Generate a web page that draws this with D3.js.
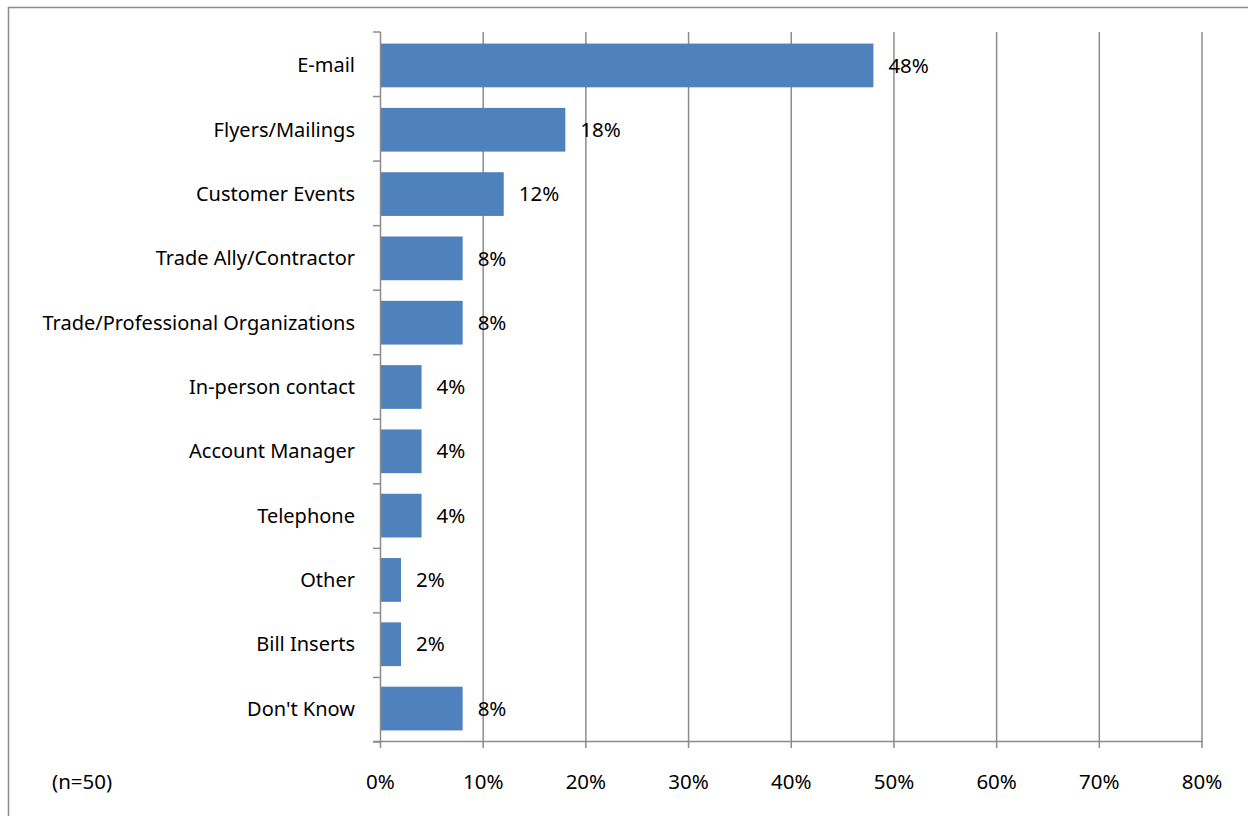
<!DOCTYPE html>
<html>
<head>
<meta charset="utf-8">
<script src="https://cdn.jsdelivr.net/npm/d3@7"></script>
<style>
  body { margin:0; background:#fff; }
  text { font-family: "Noto Sans", sans-serif; fill:#000; }
</style>
</head>
<body>
<div id="box-bar"></div>
<script>
var categories = ["E-mail","Flyers/Mailings","Customer Events","Trade Ally/Contractor",
  "Trade/Professional Organizations","In-person contact","Account Manager","Telephone",
  "Other","Bill Inserts","Don't Know"];
var values = [48,18,12,8,8,4,4,4,2,2,8];
var xTicks = [0,10,20,30,40,50,60,70,80];
var note = "(n=50)";

var width = 1248, height = 816;
var svg = d3.select("#box-bar").append("svg").attr("width",width).attr("height",height);

// outer frame
svg.append("rect")
  .attr("x",8.5).attr("y",7.5).attr("width",1260).attr("height",830)
  .attr("fill","none").attr("stroke","#8c8c8c").attr("stroke-width",1.5);

var x = d3.scaleLinear().domain([0,80]).range([380.5,1202]);
var y = d3.scaleBand().domain(categories).range([32,742]).paddingInner(0.32).paddingOuter(0.18);

var grid = "#8c8c8c";

// gridlines
svg.append("g").selectAll("line")
  .data(xTicks.slice(1))
  .enter().append("line")
  .attr("x1",function(d){ return x(d); }).attr("x2",function(d){ return x(d); })
  .attr("y1",32).attr("y2",742)
  .attr("stroke",grid).attr("stroke-width",1.5);

// bars
svg.append("g").selectAll("rect")
  .data(values)
  .enter().append("rect")
  .attr("x",x(0))
  .attr("y",function(d,i){ return y(categories[i]); })
  .attr("width",function(d){ return x(d)-x(0); })
  .attr("height",y.bandwidth())
  .attr("fill","#4f81bd");

// value labels
svg.append("g").selectAll("text")
  .data(values)
  .enter().append("text")
  .attr("x",function(d){ return x(d)+15; })
  .attr("y",function(d,i){ return y(categories[i])+y.bandwidth()/2; })
  .attr("dy","0.35em")
  .attr("font-size",20.5)
  .text(function(d){ return d+"%"; });

// left axis, ticks sit between bands
var step = (742-32)/categories.length;
var yAxis = svg.append("g");
yAxis.append("line").attr("x1",380.5).attr("x2",380.5).attr("y1",32).attr("y2",742)
  .attr("stroke",grid).attr("stroke-width",1.5);
yAxis.selectAll(".tk").data(d3.range(categories.length+1)).enter().append("line")
  .attr("x1",373).attr("x2",380.5)
  .attr("y1",function(i){ return 32+i*step; }).attr("y2",function(i){ return 32+i*step; })
  .attr("stroke",grid).attr("stroke-width",1.5);
yAxis.selectAll("text").data(categories).enter().append("text")
  .attr("x",355).attr("y",function(d){ return y(d)+y.bandwidth()/2; })
  .attr("dy","0.35em").attr("text-anchor","end").attr("font-size",20)
  .text(function(d){ return d; });

// bottom axis
var xAxis = svg.append("g");
xAxis.append("line").attr("x1",373).attr("x2",1202).attr("y1",741.5).attr("y2",741.5)
  .attr("stroke",grid).attr("stroke-width",1.5);
xAxis.selectAll(".tk").data(xTicks).enter().append("line")
  .attr("x1",function(d){ return x(d); }).attr("x2",function(d){ return x(d); })
  .attr("y1",741.5).attr("y2",748)
  .attr("stroke",grid).attr("stroke-width",1.5);
xAxis.selectAll("text").data(xTicks).enter().append("text")
  .attr("x",function(d){ return x(d); }).attr("y",782)
  .attr("dy","0.35em").attr("text-anchor","middle").attr("font-size",20.5)
  .text(function(d){ return d+"%"; });

svg.append("text").attr("x",52).attr("y",782).attr("dy","0.35em")
  .attr("font-size",20.5).text(note);
</script>
</body>
</html>
